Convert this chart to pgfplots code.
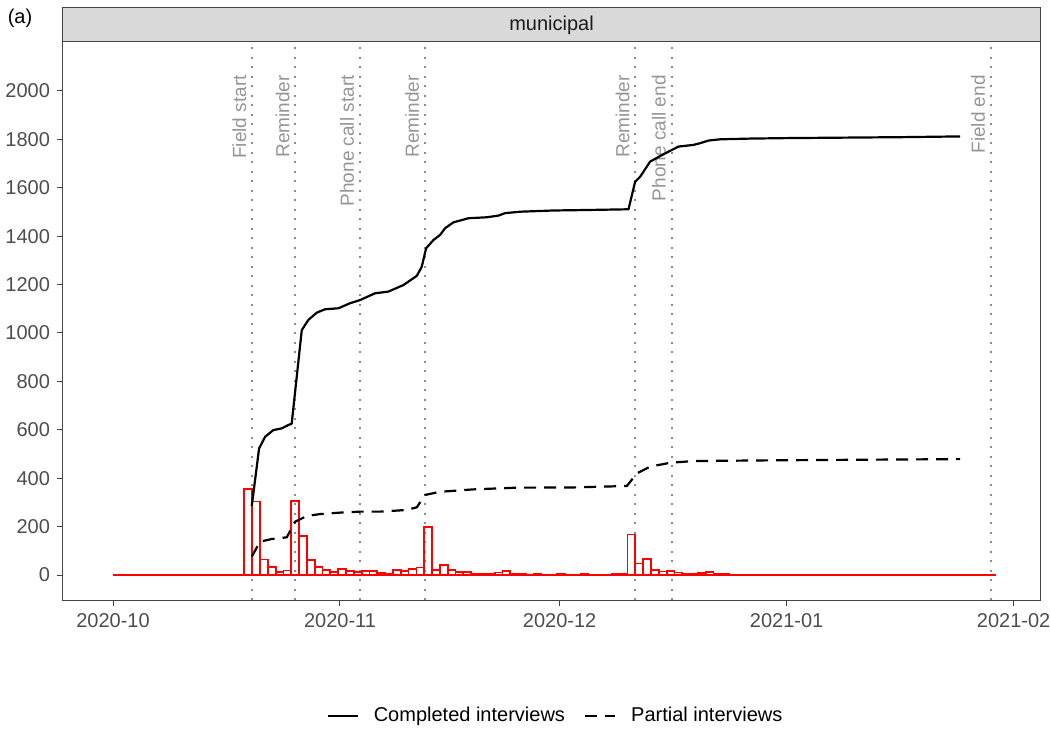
\documentclass[border=0pt]{standalone}
\usepackage{pgfplots}
\pgfplotsset{compat=1.18}
\usepackage{fontspec}
\setmainfont{Liberation Sans}
\definecolor{tickgrey}{HTML}{4D4D4D}
\definecolor{axgrey}{HTML}{444444}
\definecolor{vgrey}{HTML}{8C8C8C}
\definecolor{labgrey}{HTML}{959595}
\definecolor{stripfill}{HTML}{D9D9D9}
\definecolor{striptext}{HTML}{1A1A1A}

\pgfplotstableread{
x y
18.474 355
19.542 304
20.61 64
21.678 33
22.746 14
23.814 19
24.882 305
25.95 163
27.018 63
28.086 34
29.154 22
30.222 14
31.29 26
32.358 18
33.426 12
34.494 18
35.562 18
36.63 8
37.698 4
38.766 22
39.834 18
40.902 24
41.97 31
43.038 200
44.106 22
45.174 40
46.242 22
47.31 14
48.378 12
49.446 6
50.514 3
51.582 3
52.65 11
53.718 16
54.786 5
55.854 3
56.922 2
57.99 3
59.058 2
60.126 2
61.194 3
62.262 2
63.33 2
64.398 3
65.466 2
66.534 2
67.602 2
68.67 3
69.738 4
70.806 168
71.874 48
72.942 66
74.01 22
75.078 15
76.146 18
77.214 11
78.282 3
79.35 3
80.418 7
81.486 12
82.554 4
83.622 3
84.69 2
85.758 2
86.826 1
87.894 2
88.962 1
90.03 2
91.098 1
92.166 1
93.234 2
94.302 1
95.37 1
96.438 2
97.506 1
98.574 1
99.642 1
100.71 2
101.778 1
102.846 1
103.914 1
104.982 2
106.05 1
107.118 1
108.186 1
109.254 1
110.322 2
111.39 1
112.458 1
113.526 1
114.594 1
115.662 1
116.73 1
117.798 1
118.866 1
119.934 1
}\histtable

\tikzset{evlab/.style={xshift=-3pt, rotate=90, anchor=base east, inner sep=0pt, text=labgrey, font=\fontsize{9.5}{11}\selectfont}}

\begin{document}
\begin{tikzpicture}
\begin{axis}[
  scale only axis, width=488.5pt, height=279pt,
  xmin=-6.83, xmax=126.6, ymin=-103, ymax=2202,
  clip=false,
  axis line style={axgrey, line width=0.5pt},
  xtick pos=bottom, ytick pos=left,
  xtick={0,31,61,92,123},
  xticklabels={2020-10,2020-11,2020-12,2021-01,2021-02},
  ytick={0,200,...,2000},
  tick style={axgrey, line width=0.5pt},
  tick align=outside, major tick length=3pt,
  tick label style={font=\fontsize{10}{12}\selectfont, text=tickgrey},
  /pgf/number format/assume math mode=true,
  /pgf/number format/1000 sep={},
  legend style={at={(axis description cs:0.5051,-0.208)}, anchor=center,
    draw=none, fill=none, legend columns=2,
    font=\fontsize{10}{12}\selectfont,
    /tikz/every even column/.append style={column sep=7.5pt}},
  legend image code/.code={\draw[#1] (0pt,0pt) -- (15pt,0pt); \path (20.5pt,0pt);},
]
% strip
\draw[axgrey, line width=0.5pt, fill=stripfill] (rel axis cs:0,1) rectangle ([yshift=17pt]rel axis cs:1,1);
\node[text=striptext, font=\fontsize{10}{12}\selectfont] at ([yshift=8.5pt]rel axis cs:0.5,1) {municipal};
\node[font=\fontsize{10}{12}\selectfont, text=black] at ([xshift=-21.5pt, yshift=12pt]rel axis cs:0,1) {(a)};
\coordinate (bl) at ([xshift=-31.5pt, yshift=-65pt]rel axis cs:0,0);
\coordinate (tr) at ([xshift=5pt, yshift=21pt]rel axis cs:1,1);

% event lines
\pgfplotsinvokeforeach{18.99,24.9,33.7,42.6,71.35,76.3,119.9}{
  \addplot[vgrey, line width=1pt, dash pattern=on 1pt off 3.75pt, forget plot] coordinates {(#1,-103) (#1,2202)};
}
\node[evlab] at (axis cs:18.99,2066) {Field start};
\node[evlab] at (axis cs:24.9,2066) {Reminder};
\node[evlab] at (axis cs:33.7,2066) {Phone call start};
\node[evlab] at (axis cs:42.6,2066) {Reminder};
\node[evlab] at (axis cs:71.35,2066) {Reminder};
\node[evlab] at (axis cs:76.3,2066) {Phone call end};
\node[evlab] at (axis cs:119.9,2066) {Field end};

% histogram
\addplot[red, line width=0.9pt, forget plot] coordinates {(0,0) (17.94,0)};
\addplot[ybar, bar width=1.068, bar shift=0pt, draw=red, fill=none, line width=0.9pt, forget plot] table[x=x, y=y] {\histtable};

% cumulative curves
\addplot[black, line width=1.1pt, line join=round] coordinates {
(18.95,285)(19.95,523)(20.77,571)(21.9,599)(23.05,606)(23.95,620)(24.4,625)(25.78,1012)(26.68,1054)(27.83,1084)(28.96,1098)(30.78,1102)(32.38,1123)(33.74,1136)(35.79,1164)(37.61,1171)(39.66,1198)(41.49,1236)(42.17,1274)(42.76,1350)(43.76,1384)(44.67,1405)(45.36,1433)(46.49,1457)(48.54,1474)(51.05,1478)(52.64,1485)(53.55,1495)(55.6,1501)(60.15,1506)(64.7,1508)(70.4,1511)(71.31,1625)(72.0,1646)(73.36,1708)(74.73,1731)(75.86,1749)(77.23,1770)(79.28,1777)(80.19,1784)(81.33,1795)(82.9,1800)(87,1803)(92,1805)(100,1807)(108,1809)(115.7,1812)
};
\addlegendentry{Completed interviews}
\addplot[black, line width=1.1pt, dash pattern=on 6pt off 4pt] coordinates {
(18.95,76)(20.08,138)(21.68,149)(23.73,156)(24.86,220)(26.46,244)(28.28,252)(31.01,258)(33.74,262)(36.48,262)(40.12,269)(41.49,280)(42.62,331)(44.67,344)(49.22,354)(55.15,361)(62.88,362)(70.18,368)(71.54,420)(73.36,448)(76.09,464)(79.28,471)(90,474)(100,476)(115.7,479)
};
\addlegendentry{Partial interviews}
\end{axis}
\pgfresetboundingbox
\useasboundingbox (bl) rectangle (tr);
\end{tikzpicture}
\end{document}
